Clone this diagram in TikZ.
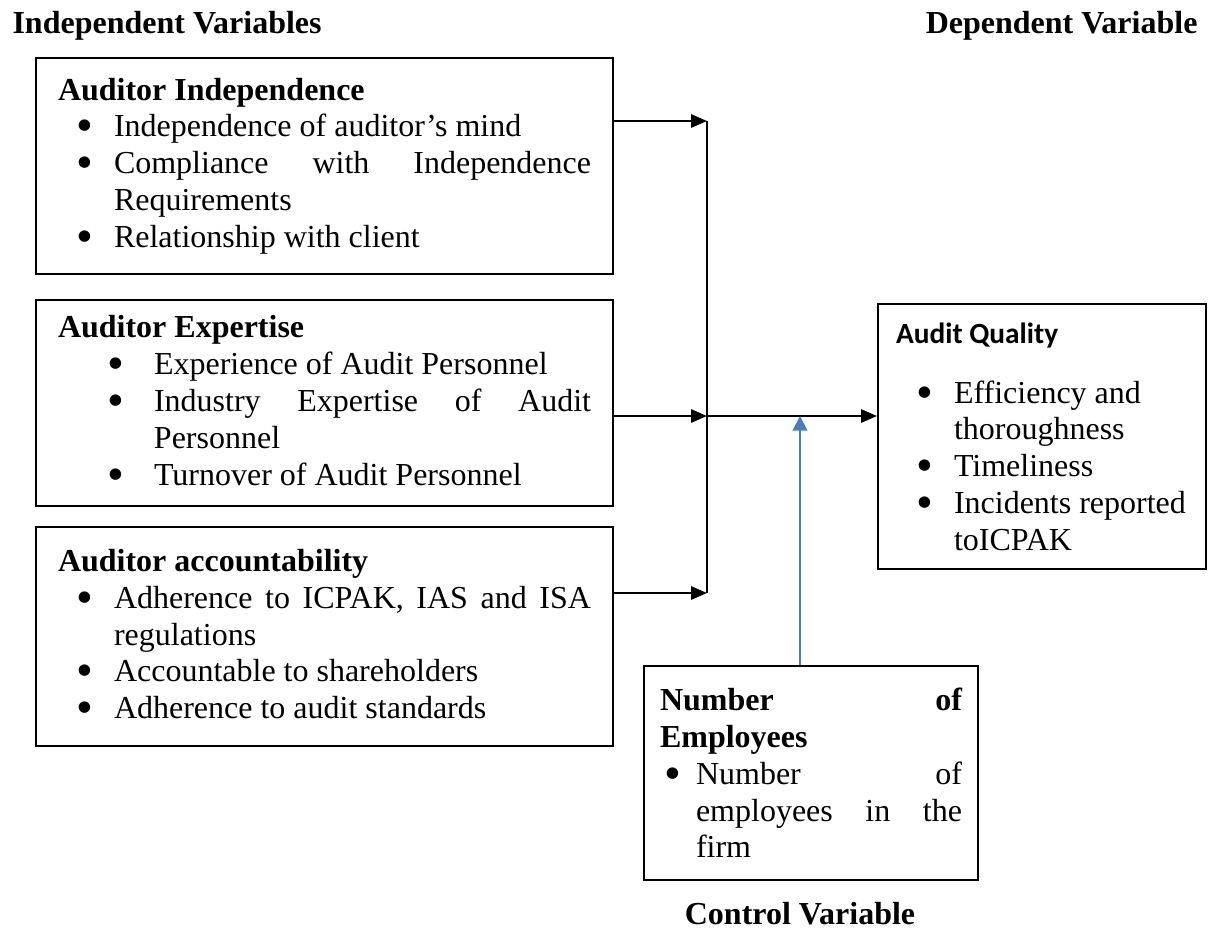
\documentclass[tikz,border=0pt]{standalone}
\usepackage{graphicx}
\usepackage{fontspec}
\setmainfont{Liberation Serif}
\newfontfamily\calibri{Carlito}
\usetikzlibrary{arrows.meta}

\definecolor{ctrlblue}{RGB}{74,126,187}

% bullet line: #1 bullet offset, #2 hanging indent, #3 text
\newcommand{\bigbul}{\raisebox{-1.9pt}{\scalebox{1.5}{\textbullet}}}
\newcommand{\bitem}[3]{\par\noindent\hangindent=#2\hangafter=1%
  \makebox[#2][l]{\hspace*{#1}\bigbul}#3\par}

\begin{document}
\begin{tikzpicture}[x=0.375pt, y=-0.375pt,
  every node/.style={font=\fontsize{12}{13.8}\selectfont},
  vartitle/.style={font=\fontsize{12}{13.8}\selectfont\bfseries, inner sep=0pt},
  varbox/.style={draw, line width=0.75pt, anchor=north west, align=justify, inner ysep=0pt},
  arr/.style={line width=0.75pt, -{Triangle[length=6pt, width=5pt]}},
  ctrl/.style={ctrlblue, line width=0.75pt, -{Triangle[length=5.5pt, width=5.5pt]}}]
  \useasboundingbox (0,0) rectangle (1208,933);

  \node[vartitle, anchor=base west] (iv) at (12,33) {Independent Variables};
  \node[vartitle, anchor=base east] (dv) at (1198,33) {Dependent Variable};
  \node[vartitle, anchor=base] (cvl) at (800,924) {Control Variable};

  \node[varbox, text width=199.9pt, inner xsep=8.25pt, minimum height=81pt] (ai) at (35,57) {%
    \textbf{Auditor Independence}
    \bitem{7pt}{21pt}{Independence of auditor’s mind}
    \bitem{7pt}{21pt}{Compliance\hfill with\hfill Independence\\Requirements}
    \bitem{7pt}{21pt}{Relationship with client}};
  \node[varbox, text width=199.9pt, inner xsep=8.25pt, minimum height=77.25pt] (ae) at (35,299) {%
    \textbf{Auditor Expertise}
    \bitem{18.4pt}{36pt}{Experience of Audit Personnel}
    \bitem{18.4pt}{36pt}{Industry\hfill Expertise\hfill of\hfill Audit\\Personnel}
    \bitem{18.4pt}{36pt}{Turnover of Audit Personnel}};
  \node[varbox, text width=199.9pt, inner xsep=8.25pt, minimum height=82.1pt] (aa) at (35,526) {%
    \textbf{Auditor accountability}
    \bitem{7pt}{21pt}{Adherence\hfill to\hfill ICPAK,\hfill IAS\hfill and\hfill ISA\\regulations}
    \bitem{7pt}{21pt}{Accountable to shareholders}
    \bitem{7pt}{21pt}{Adherence to audit standards}};

  \node[varbox, text width=109.5pt, inner xsep=6.75pt, minimum height=99.4pt] (aq) at (877,303) {%
    {\calibri\bfseries\fontsize{11}{13.8}\selectfont Audit Quality}\par\vspace{8.7pt}
    \bitem{7.5pt}{21.75pt}{Efficiency and\\thoroughness}
    \bitem{7.5pt}{21.75pt}{Timeliness}
    \bitem{7.5pt}{21.75pt}{\mbox{Incidents reported}\\toICPAK}};

  \node[varbox, text width=113.25pt, inner xsep=6pt, minimum height=80.25pt] (ne) at (643,665) {%
    \textbf{Number\hfill of\\Employees}
    \bitem{1.5pt}{13.5pt}{Number\hfill of\\employees\hfill in\hfill the\\firm}};

  \coordinate (j1) at (707,121);
  \coordinate (j2) at (707,416);
  \coordinate (j3) at (707,593);
  \coordinate (cv) at (800,416);

  \draw[arr] (ai.east |- j1) -- (j1);
  \draw[arr] (ae.east |- j2) -- (j2);
  \draw[arr] (aa.east |- j3) -- (j3);
  \draw[line width=0.75pt] (j1) -- (j3);
  \draw[arr] (j2) -- (aq.west |- j2);
  \draw[ctrl] (ne.north -| cv) -- (cv);
\end{tikzpicture}
\end{document}
